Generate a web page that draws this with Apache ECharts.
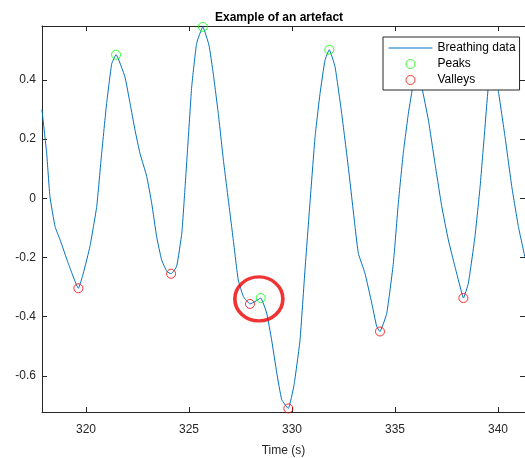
<!DOCTYPE html>
<html>
<head>
<meta charset="utf-8">
<script src="https://cdn.jsdelivr.net/npm/echarts@6/dist/echarts.min.js"></script>
<style>html,body{margin:0;padding:0;background:#fff}#c{width:525px;height:458px}</style>
</head>
<body>
<div id="c"></div>
<script>
// Breathing signal samples: time (s) and amplitude
var timeValues = [317.86,318.09,318.25,318.50,318.74,319.14,319.63,319.87,320.19,320.52,320.76,321.00,321.25,321.46,321.89,322.14,322.38,322.62,322.95,323.19,323.43,323.67,323.92,324.13,324.40,324.65,324.81,324.97,325.13,325.37,325.67,325.97,326.18,326.42,326.67,326.91,327.15,327.39,327.64,327.96,328.20,328.48,328.77,329.01,329.26,329.50,329.82,330.10,330.39,330.63,330.87,331.12,331.36,331.60,331.81,332.09,332.41,332.73,333.06,333.22,333.54,333.87,334.11,334.27,334.60,334.92,335.16,335.40,335.65,335.89,336.09,336.30,336.62,336.94,337.27,337.59,337.91,338.24,338.32,338.56,338.88,339.13,339.33,339.53,339.77,340.01,340.34,340.67,340.99,341.31];
var breathValues = [0.30,0.153,0.005,-0.096,-0.14,-0.22,-0.304,-0.253,-0.163,-0.028,0.152,0.32,0.455,0.485,0.41,0.32,0.23,0.152,0.073,-0.017,-0.13,-0.208,-0.247,-0.255,-0.23,-0.118,0.039,0.208,0.376,0.523,0.579,0.517,0.42,0.287,0.129,-0.006,-0.141,-0.276,-0.332,-0.357,-0.349,-0.337,-0.388,-0.478,-0.59,-0.68,-0.71,-0.63,-0.478,-0.242,-0.017,0.208,0.354,0.466,0.502,0.444,0.287,0.107,-0.096,-0.186,-0.253,-0.354,-0.433,-0.45,-0.388,-0.219,-0.017,0.152,0.287,0.388,0.43,0.376,0.264,0.118,-0.028,-0.141,-0.231,-0.32,-0.337,-0.287,-0.13,0.039,0.208,0.376,0.45,0.365,0.208,0.039,-0.096,-0.20];
// Detected peaks
var peakTimes = [321.46,325.67,328.48,331.81,336.09,339.77];
var peakValues = [0.485,0.579,-0.337,0.502,0.43,0.45];
// Detected valleys
var valleyTimes = [319.63,324.13,327.96,329.82,334.27,338.32];
var valleyValues = [-0.304,-0.255,-0.357,-0.71,-0.45,-0.337];
// Artefact highlight centre
var artefactMark = [328.39, -0.34];
// Axis ticks and limits
var xTicks = [320,325,330,335,340];
var yTicks = [-0.6,-0.4,-0.2,0,0.2,0.4];
var xLimits = [317.864, 341.31];
var yLimits = [-0.722, 0.582];

function zip(a,b){return a.map(function(v,i){return [v,b[i]];});}

var axisCol = '#262626';
var font = 'Liberation Sans, Arial, Helvetica, sans-serif';

function xAx(pos, labels){
  return {
    type:'value', position:pos, min:xLimits[0], max:xLimits[1],
    axisLine:{show:true,onZero:false,lineStyle:{color:axisCol,width:1}},
    axisTick:{show:true,inside:true,length:5,customValues:xTicks,lineStyle:{color:axisCol}},
    axisLabel:{show:labels,customValues:xTicks,color:axisCol,fontSize:12,fontFamily:font,margin:12},
    splitLine:{show:false},
    name: labels ? 'Time (s)' : '',
    nameLocation:'middle', nameGap:33,
    nameTextStyle:{color:axisCol,fontSize:12,fontFamily:font}
  };
}
function yAx(pos, labels){
  return {
    type:'value', position:pos, min:yLimits[0], max:yLimits[1],
    axisLine:{show:true,onZero:false,lineStyle:{color:axisCol,width:1}},
    axisTick:{show:true,inside:true,length:5,customValues:yTicks,lineStyle:{color:axisCol}},
    axisLabel:{show:labels,customValues:yTicks,color:axisCol,fontSize:12,fontFamily:font,margin:6,
      formatter:function(v){return String(Math.round(v*10)/10);}},
    splitLine:{show:false}
  };
}

var chart = echarts.init(document.getElementById('c'), null, {renderer:'canvas'});
chart.setOption({
  animation:false,
  backgroundColor:'#fff',
  title:{text:'Example of an artefact', left:210, top:7,
    textStyle:{fontSize:12,fontWeight:'bold',color:'#000',fontFamily:font}},
  grid:{left:42,right:0,top:26,bottom:46,containLabel:false,outerBoundsMode:'none'},
  xAxis:[xAx('bottom',true), xAx('top',false)],
  yAxis:[yAx('left',true), yAx('right',false)],
  legend:{
    orient:'vertical', left:383, top:37,
    padding:[5,4,4,5], itemGap:4, itemWidth:44, itemHeight:9,
    backgroundColor:'#fff', borderColor:axisCol, borderWidth:1, borderRadius:0,
    textStyle:{fontSize:12,color:'#000',fontFamily:font},
    data:[
      {name:'Breathing data', itemStyle:{opacity:0}, lineStyle:{width:1,color:'#0072bd'}},
      {name:'Peaks', icon:'circle', itemStyle:{color:'transparent',borderColor:'#00ff00',borderWidth:1}},
      {name:'Valleys', icon:'circle', itemStyle:{color:'transparent',borderColor:'#ff0000',borderWidth:1}}
    ]
  },
  series:[
    {name:'Breathing data', type:'line', data:zip(timeValues,breathValues), symbol:'none', showSymbol:false,
      smooth:0.12,
      lineStyle:{color:'#0072bd',width:1}, itemStyle:{color:'#0072bd'}, clip:true, z:2},
    {name:'Peaks', type:'scatter', data:zip(peakTimes,peakValues), symbol:'circle', symbolSize:9,
      itemStyle:{color:'transparent',borderColor:'#00ff00',borderWidth:1}, z:3, clip:false},
    {name:'Valleys', type:'scatter', data:zip(valleyTimes,valleyValues), symbol:'circle', symbolSize:9,
      itemStyle:{color:'transparent',borderColor:'#ff0000',borderWidth:1}, z:3, clip:false},
    {name:'artefact', type:'scatter', data:[artefactMark], symbol:'circle', symbolSize:[48,44],
      itemStyle:{color:'transparent',borderColor:'#ee0000',borderWidth:3.5}, z:4, silent:true, clip:false}
  ]
});
</script>
</body>
</html>
